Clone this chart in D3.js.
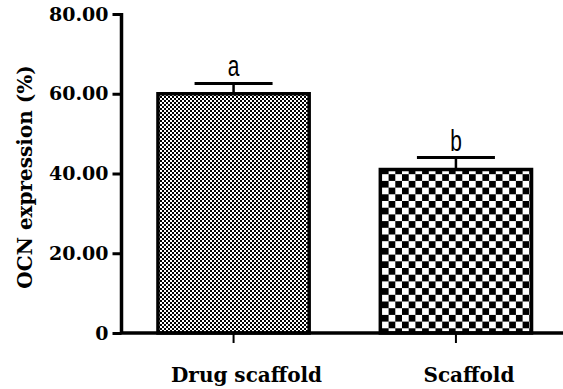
<!DOCTYPE html>
<html>
<head>
<meta charset="utf-8">
<script src="https://cdn.jsdelivr.net/npm/d3@7"></script>
<style>
  body { margin: 0; background: #fff; }
  svg { display: block; }
</style>
</head>
<body>
<svg id="chart" width="563" height="389"></svg>
<script>
// data
var groups = ['Drug scaffold', 'Scaffold'];
var means = [60, 41];
var upperErr = [62.6, 44];
var letters = ['a', 'b'];
var yTicks = [0, 20, 40, 60, 80];

var svg = d3.select('#chart');
var W = 563, H = 389;
var serif = '"DejaVu Serif", serif';

var y = d3.scaleLinear().domain([0, 80]).range([333, 14]);
var x = d3.scaleBand().domain(groups).range([121.5, 568])
  .paddingInner(0.32).paddingOuter(0.164);

// fill patterns
var defs = svg.append('defs');
function checker(id, s) {
  var p = defs.append('pattern').attr('id', id)
    .attr('patternUnits', 'userSpaceOnUse')
    .attr('width', s * 2).attr('height', s * 2);
  p.append('rect').attr('width', s * 2).attr('height', s * 2).attr('fill', '#fff');
  p.append('rect').attr('width', s).attr('height', s).attr('fill', '#000');
  p.append('rect').attr('x', s).attr('y', s).attr('width', s).attr('height', s).attr('fill', '#000');
}
checker('fine', 2);
checker('coarse', 6.7);
var fills = ['url(#fine)', 'url(#coarse)'];

// error bars (upper half only, the rest hides behind the bar)
var err = svg.append('g');
groups.forEach(function (g, i) {
  var cx = x(g) + x.bandwidth() / 2;
  err.append('line').attr('x1', cx).attr('x2', cx)
    .attr('y1', y(upperErr[i])).attr('y2', y(means[i]))
    .attr('stroke', '#000').attr('stroke-width', 2.5);
  err.append('line').attr('x1', cx - 39).attr('x2', cx + 39)
    .attr('y1', y(upperErr[i])).attr('y2', y(upperErr[i]))
    .attr('stroke', '#000').attr('stroke-width', 3);
});

svg.append('g').selectAll('rect').data(groups).join('rect')
  .attr('x', function (d) { return x(d); })
  .attr('y', function (d, i) { return y(means[i]); })
  .attr('width', x.bandwidth())
  .attr('height', function (d, i) { return y(0) - y(means[i]); })
  .attr('fill', function (d, i) { return fills[i]; })
  .attr('stroke', '#000').attr('stroke-width', 3.5);

// significance letters
svg.append('g').selectAll('text').data(groups).join('text')
  .attr('transform', function (d, i) {
    return 'translate(' + (x(d) + x.bandwidth() / 2) + ',' + (y(upperErr[i]) - 7) + ') scale(0.72,1)';
  })
  .attr('text-anchor', 'middle')
  .attr('font-family', '"Liberation Sans", Arial, sans-serif')
  .attr('font-size', 29)
  .text(function (d, i) { return letters[i]; });

// y axis
var yAxis = svg.append('g').attr('transform', 'translate(121.5,0)')
  .call(d3.axisLeft(y).tickValues(yTicks).tickSize(9).tickPadding(4)
    .tickFormat(function (d) { return d === 0 ? '0' : d3.format('.2f')(d); }));
yAxis.select('.domain').attr('stroke-width', 3.5).attr('d', 'M0,' + (y(80) - 1) + 'V' + y(0));
yAxis.selectAll('.tick line').attr('stroke-width', 3);
yAxis.selectAll('.tick text').attr('font-family', serif).attr('font-weight', 'bold')
  .attr('font-size', 19).attr('fill', '#000');

// x axis
var xAxis = svg.append('g').attr('transform', 'translate(0,' + y(0) + ')');
xAxis.append('line').attr('x1', 120).attr('x2', W).attr('y1', 0).attr('y2', 0)
  .attr('stroke', '#000').attr('stroke-width', 3.5);
groups.forEach(function (g) {
  var cx = x(g) + x.bandwidth() / 2;
  xAxis.append('line').attr('x1', cx).attr('x2', cx).attr('y1', 0).attr('y2', 10)
    .attr('stroke', '#000').attr('stroke-width', 2);
  xAxis.append('text').attr('x', cx + 13).attr('y', 49)
    .attr('text-anchor', 'middle').attr('font-family', serif)
    .attr('font-weight', 'bold').attr('font-size', 20).text(g);
});

// y title
svg.append('text')
  .attr('transform', 'translate(32,177) rotate(-90)')
  .attr('text-anchor', 'middle').attr('font-family', serif)
  .attr('font-weight', 'bold').attr('font-size', 20)
  .text('OCN expression (%)');
</script>
</body>
</html>
